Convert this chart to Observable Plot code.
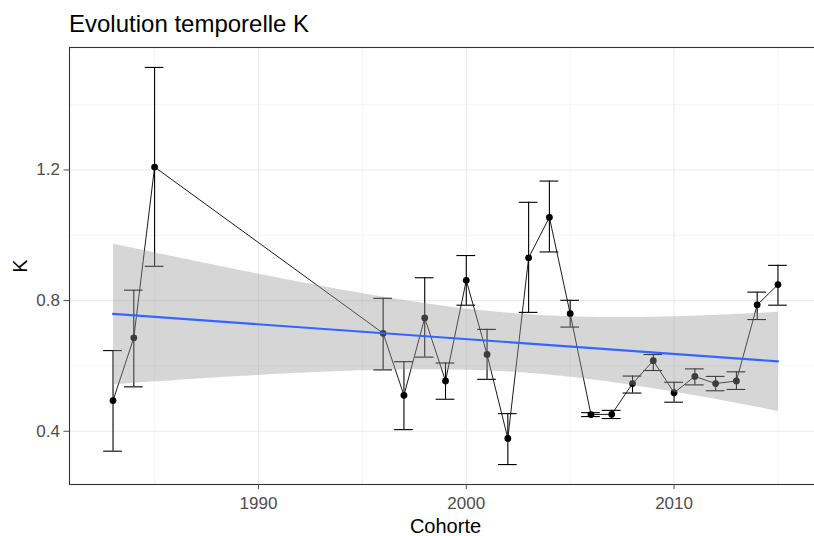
<!DOCTYPE html>
<html>
<head>
<meta charset="utf-8">
<script src="https://cdn.jsdelivr.net/npm/d3@7"></script>
<script src="https://cdn.jsdelivr.net/npm/@observablehq/plot@0.6"></script>
<style>
  html, body { margin: 0; padding: 0; background: white; overflow: hidden; width: 814px; height: 536px; }
  #wrap { position: relative; width: 814px; height: 536px; overflow: hidden; }
  #title { position: absolute; left: 69px; top: 12px; font: 24px "Liberation Sans", Arial, sans-serif; line-height: 24px; color: #000; white-space: nowrap; z-index: 2; }
  #chart { position: absolute; left: 0; top: 0; width: 826px; height: 536px; }
  #chart svg { max-width: none !important; }
</style>
</head>
<body>
<div id="wrap">
  <div id="title">Evolution temporelle K</div>
  <div id="chart"></div>
</div>
<script>
const years = [1983, 1984, 1985, 1996, 1997, 1998, 1999, 2000, 2001, 2002, 2003, 2004, 2005, 2006, 2007, 2008, 2009, 2010, 2011, 2012, 2013, 2014, 2015];
const K     = [0.494, 0.686, 1.209, 0.700, 0.510, 0.747, 0.554, 0.862, 0.635, 0.378, 0.931, 1.055, 0.760, 0.451, 0.452, 0.546, 0.616, 0.518, 0.568, 0.546, 0.554, 0.787, 0.849];
const Klow  = [0.339, 0.536, 0.905, 0.588, 0.405, 0.627, 0.498, 0.786, 0.559, 0.298, 0.764, 0.949, 0.719, 0.445, 0.439, 0.517, 0.586, 0.489, 0.542, 0.524, 0.528, 0.742, 0.786];
const Khigh = [0.647, 0.832, 1.514, 0.807, 0.613, 0.870, 0.609, 0.938, 0.712, 0.454, 1.101, 1.166, 0.801, 0.457, 0.464, 0.569, 0.635, 0.550, 0.591, 0.568, 0.582, 0.826, 0.908];

const xTicks = [1990, 2000, 2010];
const xMinor = [1985, 1995, 2005, 2015];
const yTicks = [0.4, 0.8, 1.2];
const yMinor = [0.6, 1.0, 1.4];

const capHalf = 0.45;
const data = years.map((year, i) => ({year, k: K[i], lo: Klow[i], hi: Khigh[i]}));

const font = '"Liberation Sans", Arial, sans-serif';
const grid = "#ebebeb";

const chart = Plot.plot({
  width: 826,
  height: 536,
  marginLeft: 69,
  marginRight: 5,
  marginTop: 47,
  marginBottom: 52,
  style: {fontFamily: font, background: "transparent", overflow: "visible", maxWidth: "none"},
  x: {domain: [1980.905, 2017.095]},
  y: {domain: [0.237, 1.575]},
  marks: [
    Plot.frame({fill: "white", stroke: null}),
    Plot.ruleX(xMinor, {stroke: grid, strokeWidth: 0.55}),
    Plot.ruleY(yMinor, {stroke: grid, strokeWidth: 0.55}),
    Plot.ruleX(xTicks, {stroke: grid, strokeWidth: 1.1}),
    Plot.ruleY(yTicks, {stroke: grid, strokeWidth: 1.1}),
    Plot.line(data, {x: "year", y: "k", stroke: "black", strokeWidth: 0.9}),
    Plot.ruleX(data, {x: "year", y1: "lo", y2: "hi", stroke: "black", strokeWidth: 1.1}),
    Plot.ruleY(data, {y: "hi", x1: d => d.year - capHalf, x2: d => d.year + capHalf, stroke: "black", strokeWidth: 1.1}),
    Plot.ruleY(data, {y: "lo", x1: d => d.year - capHalf, x2: d => d.year + capHalf, stroke: "black", strokeWidth: 1.1}),
    Plot.dot(data, {x: "year", y: "k", r: 3.4, fill: "black", stroke: null}),
    Plot.linearRegressionY(data, {x: "year", y: "k", stroke: "#3366FF", strokeWidth: 2.1, fill: "#999999", fillOpacity: 0.4, ci: 0.95}),
    Plot.frame({stroke: "#333333", strokeWidth: 1.1}),
    Plot.axisX(xTicks, {tickSize: 5, tickPadding: 7, fontSize: 17, color: "#4d4d4d", label: null, tickFormat: d => String(d)}),
    Plot.axisY(yTicks, {tickSize: 5.5, tickPadding: 4, fontSize: 17, color: "#4d4d4d", label: null, tickFormat: d => d.toFixed(1)}),
    Plot.text(["Cohorte"], {text: d => d, frameAnchor: "bottom", dy: 34, lineAnchor: "top", fontSize: 20, fill: "black"}),
    Plot.text(["K"], {text: d => d, frameAnchor: "left", dx: -49, rotate: -90, textAnchor: "middle", lineAnchor: "middle", fontSize: 20, fill: "black"})
  ]
});
chart.style.maxWidth = "none";
document.getElementById("chart").appendChild(chart);
</script>
</body>
</html>
